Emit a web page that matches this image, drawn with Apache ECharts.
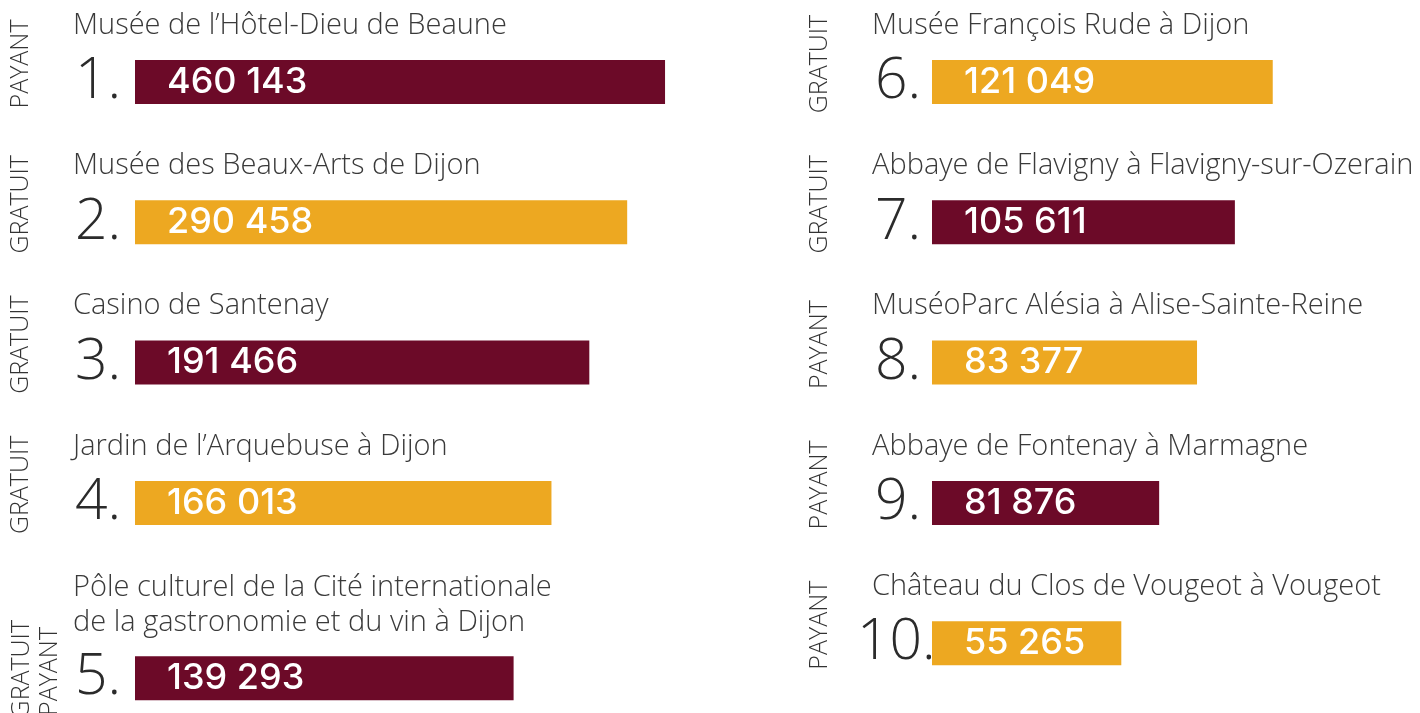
<!DOCTYPE html>
<html>
<head>
<meta charset="utf-8">
<script src="https://cdn.jsdelivr.net/npm/echarts@6/dist/echarts.min.js"></script>
<style>
  html, body { margin: 0; padding: 0; background: #fff; }
  #chart { width: 1420px; height: 713px; }
</style>
</head>
<body>
<div id="chart"></div>
<script>
// classement des sites les plus visités
const rankLabels = ['1.', '2.', '3.', '4.', '5.', '6.', '7.', '8.', '9.', '10.']
const siteNames = [
  'Musée de l’Hôtel-Dieu de Beaune',
  'Musée des Beaux-Arts de Dijon',
  'Casino de Santenay',
  'Jardin de l’Arquebuse à Dijon',
  'Pôle culturel de la Cité internationale\nde la gastronomie et du vin à Dijon',
  'Musée François Rude à Dijon',
  'Abbaye de Flavigny à Flavigny-sur-Ozerain',
  'MuséoParc Alésia à Alise-Sainte-Reine',
  'Abbaye de Fontenay à Marmagne',
  'Château du Clos de Vougeot à Vougeot',
]
const visitors = [460143, 290458, 191466, 166013, 139293, 121049, 105611, 83377, 81876, 55265]
const accessTypes = [
  ['PAYANT'], ['GRATUIT'], ['GRATUIT'], ['GRATUIT'], ['GRATUIT', 'PAYANT'],
  ['GRATUIT'], ['GRATUIT'], ['PAYANT'], ['PAYANT'], ['PAYANT'],
]
// longueur des barres (par rang, pas proportionnelle aux visiteurs)
const barUnits = [14, 13, 12, 11, 10, 9, 8, 7, 6, 5]

const MAROON = '#6c0a28'
const ORANGE = '#eda821'
const FONT = '"Open Sans", sans-serif'
const UNIT = 37.86 // px par unité de barre

function fmt(v) {
  return String(v).replace(/\B(?=(\d{3})+(?!\d))/g, ' ')
}

const grids = [], xAxes = [], yAxes = [], series = [], titles = [], graphics = []

siteNames.forEach((name, i) => {
  const col = Math.floor(i / 5)
  const row = i % 5
  const barLeft = col === 0 ? 135 : 932
  const axisMax = col === 0 ? 14 : 12
  const barTop = 60 + row * 140.3 + (i === 4 ? 35 : 0)
  const nLines = name.split('\n').length

  grids.push({ left: barLeft, top: barTop, width: axisMax * UNIT, height: 44 })
  xAxes.push({ gridIndex: i, type: 'value', min: 0, max: axisMax, show: false })
  yAxes.push({
    gridIndex: i,
    type: 'category',
    data: [rankLabels[i]],
    axisLine: { show: false },
    axisTick: { show: false },
    axisLabel: {
      align: 'left',
      margin: col === 0 ? 60 : (i === 9 ? 75 : 57),
      fontFamily: FONT,
      fontWeight: 300,
      fontSize: 57,
      color: '#2b2b2b',
      padding: [3, 0, 0, 0],
    },
  })
  series.push({
    type: 'bar',
    xAxisIndex: i,
    yAxisIndex: i,
    barWidth: 44,
    silent: true,
    itemStyle: { color: i % 2 === 0 ? MAROON : ORANGE },
    label: {
      show: true,
      position: 'insideLeft',
      distance: 32,
      formatter: fmt(visitors[i]),
      color: '#fff',
      fontFamily: 'Inter, sans-serif',
      fontWeight: 500,
      fontSize: 36,
    },
    data: [barUnits[i]],
  })
  titles.push({
    text: name,
    left: col === 0 ? 73 : 872,
    top: barTop - 52 - (nLines - 1) * 34,
    padding: 0,
    textStyle: {
      fontFamily: FONT,
      fontWeight: 300,
      fontSize: 29,
      lineHeight: 35,
      color: '#3a3a3a',
    },
  })

  // étiquettes PAYANT / GRATUIT verticales
  const types = accessTypes[i]
  if (types.length === 1) {
    graphics.push({
      type: 'text',
      x: col === 0 ? 21 : 820,
      y: barTop + 4,
      rotation: Math.PI / 2,
      silent: true,
      style: {
        text: types[0],
        font: '300 25px ' + FONT,
        fill: '#333',
        align: 'center',
        verticalAlign: 'middle',
      },
    })
  } else {
    types.forEach((t, k) => {
      graphics.push({
        type: 'text',
        x: 22 + k * 28,
        y: 620 + k * 7,
        rotation: Math.PI / 2,
        silent: true,
        style: {
          text: t,
          font: '300 25px ' + FONT,
          fill: '#333',
          align: 'right',
          verticalAlign: 'middle',
        },
      })
    })
  }
})

const chart = echarts.init(document.getElementById('chart'))
chart.setOption({
  backgroundColor: '#fff',
  animation: false,
  title: titles,
  grid: grids,
  xAxis: xAxes,
  yAxis: yAxes,
  series: series,
  graphic: graphics,
})
</script>
</body>
</html>
